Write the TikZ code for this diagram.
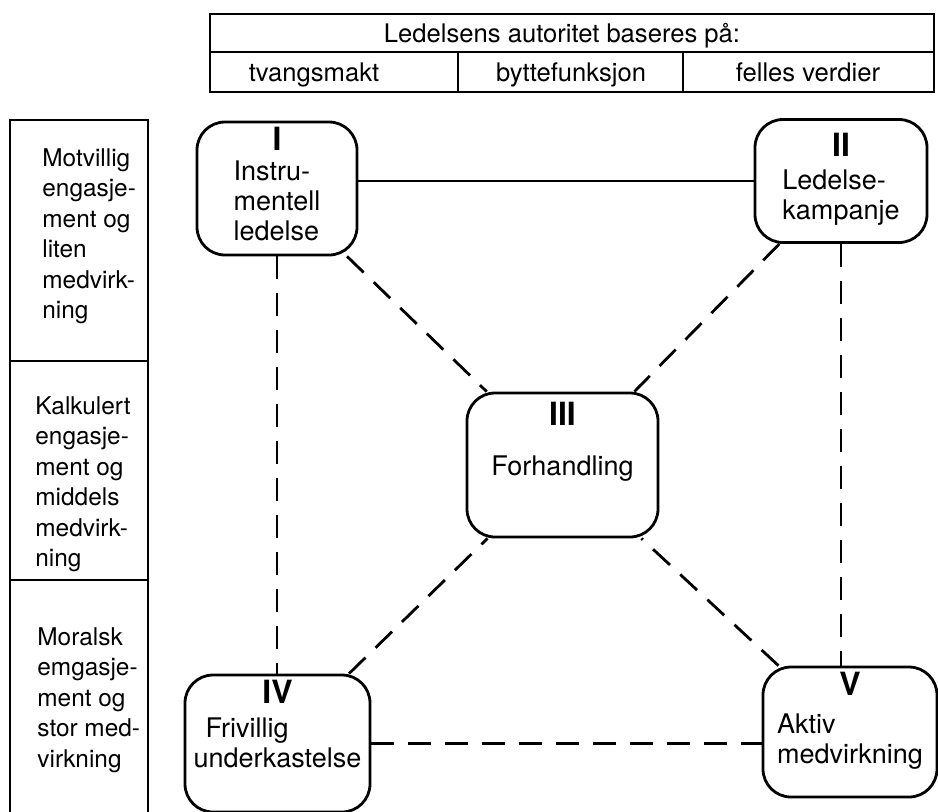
\documentclass[tikz,border=0pt]{standalone}
\usepackage{fontspec}
\setmainfont{TeX Gyre Heros}
\usetikzlibrary{positioning}

\tikzset{
    phase/.style={
      rectangle,
      rounded corners=14pt,
      draw=black,
      line width=1.4pt,
      inner sep=0pt,
      font=\fontsize{13.5}{15}\selectfont
    },
    rowtext/.style={
      anchor=north west,
      align=left,
      inner sep=0pt,
      font=\fontsize{12.2}{15.25}\selectfont
    },
    headtext/.style={
      anchor=base,
      inner sep=0pt,
      font=\fontsize{12.8}{15}\selectfont
    },
    frame/.style={line width=1.4pt},
    link/.style={line width=1.4pt, dash pattern=on 11.5pt off 7pt},
}
\newcommand{\fasenr}[1]{\multicolumn{1}{@{}c@{}}{\fontsize{16}{18}\selectfont\bfseries #1}}

\begin{document}
\begin{tikzpicture}[x=0.5pt,y=-0.5pt]
    \clip (0,0) rectangle (938,811);

    % header table
    \draw[frame] (210,14) rectangle (934,52);
    \draw[frame] (210,52) rectangle (934,92);
    \draw[frame] (458,52) -- (458,92);
    \draw[frame] (683,52) -- (683,92);
    \node[headtext] at (562,42) (basis) {Ledelsens autoritet baseres på:};
    \node[headtext] at (314,81) (tvang) {tvangsmakt};
    \node[headtext] at (571,81) (bytte) {byttefunksjon};
    \node[headtext] at (808,81) (felles) {felles verdier};

    % left column
    \draw[frame] (10,120) rectangle (148,361);
    \draw[frame] (10,361) rectangle (148,580);
    \draw[frame] (10,580) rectangle (148,830);
    \node[rowtext] at (42,148) (liten) {Motvillig\\engasje-\\ment og\\liten\\medvirk-\\ning};
    \node[rowtext] at (35,396) (middels) {Kalkulert\\engasje-\\ment og\\middels\\medvirk-\\ning};
    \node[rowtext] at (37,627) (stor) {Moralsk\\emgasje-\\ment og\\stor med-\\virkning};

    % the five forms
    \node[phase, minimum width=80pt, minimum height=66.5pt] at (277,188.5) (instr)
      {\begin{tabular}{@{}l@{}}\fasenr{I}\\ Instru-\\mentell\\ledelse\end{tabular}};
    \node[phase, minimum width=86pt, minimum height=61.5pt] at (841,181) (kamp)
      {\begin{tabular}{@{}l@{}}\fasenr{II}\\[1.5pt] Ledelse-\\kampanje\end{tabular}};
    \node[phase, minimum width=95.5pt, minimum height=72pt] at (562.5,465) (forh)
      {\begin{tabular}{@{}l@{}}\fasenr{III}\\[10pt] Forhandling\\[22pt]\end{tabular}};
    \node[phase, minimum width=92.5pt, minimum height=68.5pt] at (277.5,743.5) (friv)
      {\begin{tabular}{@{}l@{}}\fasenr{IV\hspace{9pt}}\\[2pt] \hspace{6pt}Frivillig\\underkastelse\\[15pt]\end{tabular}};
    \node[phase, minimum width=87pt, minimum height=65pt] at (850,732) (aktiv)
      {\begin{tabular}{@{}l@{}}\fasenr{V}\\[4pt] Aktiv\\medvirkning\\[10pt]\end{tabular}};

    \draw[frame] (kamp.west -| instr.east) -- (kamp.west);
    \draw[link] (instr.south) -- (instr.south |- friv.north);
    \draw[link] (kamp.south) -- (kamp.south |- aktiv.north);
    \draw[link] (friv.east) -- (friv.east -| aktiv.west);
    \draw[link] (instr) -- (forh);
    \draw[link] (kamp) -- (forh);
    \draw[link] (friv) -- (forh);
    \draw[link] (aktiv) -- (forh);

\end{tikzpicture}
\end{document}
